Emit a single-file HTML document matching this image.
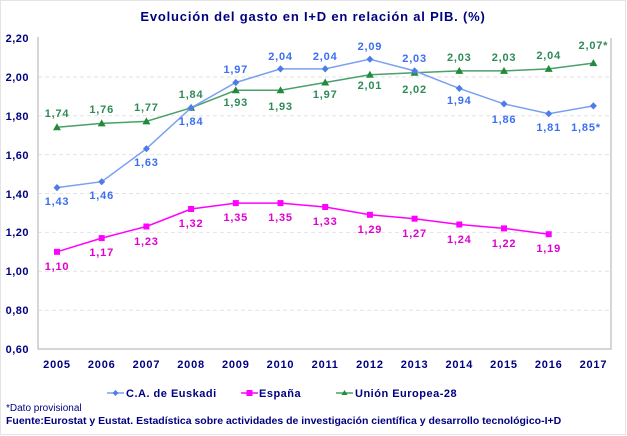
<!DOCTYPE html><html><head><style>body{margin:0;background:#fff}svg{display:block;font-family:"Liberation Sans",sans-serif}</style></head><body>
<svg width="627" height="436" xmlns="http://www.w3.org/2000/svg">
<rect x="0.5" y="0.5" width="625" height="434" fill="#fff" stroke="#e4e4e4"/>
<text x="313" y="21" text-anchor="middle" font-size="13" font-weight="bold" fill="#000080" letter-spacing="0.8">Evolución del gasto en I+D en relación al PIB. (%)</text>
<g stroke="#e2e2e2" stroke-dasharray="4,3">
<line x1="38" x2="611" y1="77" y2="77"/><line x1="38" x2="611" y1="115.7" y2="115.7"/><line x1="38" x2="611" y1="154.6" y2="154.6"/><line x1="38" x2="611" y1="193.5" y2="193.5"/><line x1="38" x2="611" y1="232.4" y2="232.4"/><line x1="38" x2="611" y1="271.3" y2="271.3"/><line x1="38" x2="611" y1="310.2" y2="310.2"/></g>
<polyline points="38,37 38,349 611,349 611,38" fill="none" stroke="#c8c8c8" stroke-width="1.5"/>
<g font-size="11" font-weight="bold" fill="#000080" text-anchor="end" letter-spacing="0.5">
<text x="29" y="42">2,20</text><text x="29" y="81">2,00</text><text x="29" y="120">1,80</text><text x="29" y="159">1,60</text><text x="29" y="198">1,40</text><text x="29" y="236">1,20</text><text x="29" y="275">1,00</text><text x="29" y="314">0,80</text><text x="29" y="353">0,60</text></g>
<g font-size="11" font-weight="bold" fill="#000080" text-anchor="middle" letter-spacing="0.8">
<text x="57" y="368">2005</text><text x="101.7" y="368">2006</text><text x="146.4" y="368">2007</text><text x="191.1" y="368">2008</text><text x="235.8" y="368">2009</text><text x="280.5" y="368">2010</text><text x="325.2" y="368">2011</text><text x="369.9" y="368">2012</text><text x="414.6" y="368">2013</text><text x="459.3" y="368">2014</text><text x="504" y="368">2015</text><text x="548.7" y="368">2016</text><text x="593.4" y="368">2017</text></g>

<!-- EU -->
<polyline fill="none" stroke="#4aa06a" stroke-width="1.5" points="57,127.3 101.7,123.4 146.4,121.4 191.1,107.8 235.8,90.3 280.5,90.3 325.2,82.5 369.9,74.8 414.6,72.8 459.3,70.9 504,70.9 548.7,68.9 593.4,63.1"/>
<g fill="#228b3a">
<path d="M57,123.3 l4,7 h-8z"/><path d="M101.7,119.4 l4,7 h-8z"/><path d="M146.4,117.4 l4,7 h-8z"/><path d="M191.1,103.8 l4,7 h-8z"/><path d="M235.8,86.3 l4,7 h-8z"/><path d="M280.5,86.3 l4,7 h-8z"/><path d="M325.2,78.5 l4,7 h-8z"/><path d="M369.9,70.8 l4,7 h-8z"/><path d="M414.6,68.8 l4,7 h-8z"/><path d="M459.3,66.9 l4,7 h-8z"/><path d="M504,66.9 l4,7 h-8z"/><path d="M548.7,64.9 l4,7 h-8z"/><path d="M593.4,59.1 l4,7 h-8z"/></g>

<!-- Euskadi -->
<polyline fill="none" stroke="#7b9ff2" stroke-width="1.5" points="57,187.6 101.7,181.7 146.4,148.7 191.1,107.8 235.8,82.5 280.5,68.9 325.2,68.9 369.9,59.2 414.6,70.9 459.3,88.4 504,103.9 548.7,113.7 593.4,105.9"/>
<g fill="#4f7de8">
<path d="M57,184 l3.5,3.6 -3.5,3.6 -3.5,-3.6z"/><path d="M101.7,178.1 l3.5,3.6 -3.5,3.6 -3.5,-3.6z"/><path d="M146.4,145.1 l3.5,3.6 -3.5,3.6 -3.5,-3.6z"/><path d="M191.1,104.2 l3.5,3.6 -3.5,3.6 -3.5,-3.6z"/><path d="M235.8,78.9 l3.5,3.6 -3.5,3.6 -3.5,-3.6z"/><path d="M280.5,65.3 l3.5,3.6 -3.5,3.6 -3.5,-3.6z"/><path d="M325.2,65.3 l3.5,3.6 -3.5,3.6 -3.5,-3.6z"/><path d="M369.9,55.6 l3.5,3.6 -3.5,3.6 -3.5,-3.6z"/><path d="M414.6,67.3 l3.5,3.6 -3.5,3.6 -3.5,-3.6z"/><path d="M459.3,84.8 l3.5,3.6 -3.5,3.6 -3.5,-3.6z"/><path d="M504,100.3 l3.5,3.6 -3.5,3.6 -3.5,-3.6z"/><path d="M548.7,110.1 l3.5,3.6 -3.5,3.6 -3.5,-3.6z"/><path d="M593.4,102.3 l3.5,3.6 -3.5,3.6 -3.5,-3.6z"/></g>

<!-- España -->
<polyline fill="none" stroke="#ff00ff" stroke-width="1.5" points="57,251.8 101.7,238.1 146.4,226.5 191.1,209 235.8,203.1 280.5,203.1 325.2,207 369.9,214.8 414.6,218.7 459.3,224.5 504,228.4 548.7,234.2"/>
<g fill="#ff00ff">
<rect x="54" y="248.8" width="6" height="6"/><rect x="98.7" y="235.1" width="6" height="6"/><rect x="143.4" y="223.5" width="6" height="6"/><rect x="188.1" y="206" width="6" height="6"/><rect x="232.8" y="200.1" width="6" height="6"/><rect x="277.5" y="200.1" width="6" height="6"/><rect x="322.2" y="204" width="6" height="6"/><rect x="366.9" y="211.8" width="6" height="6"/><rect x="411.6" y="215.7" width="6" height="6"/><rect x="456.3" y="221.5" width="6" height="6"/><rect x="501" y="225.4" width="6" height="6"/><rect x="545.7" y="231.2" width="6" height="6"/></g>

<g font-size="11" font-weight="bold" text-anchor="middle" letter-spacing="0.8">
<g fill="#2e8b57">
<text x="57" y="117">1,74</text><text x="101.7" y="113">1,76</text><text x="146.4" y="111">1,77</text><text x="191.1" y="98">1,84</text><text x="235.8" y="106">1,93</text><text x="280.5" y="110">1,93</text><text x="325.2" y="98">1,97</text><text x="369.9" y="89">2,01</text><text x="414.6" y="93">2,02</text><text x="459.3" y="61">2,03</text><text x="504" y="61">2,03</text><text x="548.7" y="59">2,04</text><text x="593.4" y="49">2,07*</text></g>
<g fill="#3b6ef0">
<text x="57" y="205">1,43</text><text x="101.7" y="199">1,46</text><text x="146.4" y="166">1,63</text><text x="191.1" y="125">1,84</text><text x="235.8" y="73">1,97</text><text x="280.5" y="60">2,04</text><text x="325.2" y="60">2,04</text><text x="369.9" y="50">2,09</text><text x="414.6" y="62">2,03</text><text x="459.3" y="104">1,94</text><text x="504" y="123">1,86</text><text x="548.7" y="131">1,81</text><text x="586" y="131">1,85*</text></g>
<g fill="#e000d0">
<text x="57" y="270">1,10</text><text x="101.7" y="256">1,17</text><text x="146.4" y="245">1,23</text><text x="191.1" y="227">1,32</text><text x="235.8" y="221">1,35</text><text x="280.5" y="221">1,35</text><text x="325.2" y="225">1,33</text><text x="369.9" y="233">1,29</text><text x="414.6" y="237">1,27</text><text x="459.3" y="243">1,24</text><text x="504" y="247">1,22</text><text x="548.7" y="252">1,19</text></g>
</g>

<!-- legend -->
<g font-size="11" font-weight="bold" fill="#000080" letter-spacing="0.5">
<line x1="107" x2="124" y1="393" y2="393" stroke="#7b9ff2" stroke-width="1.5"/><path d="M115.5,390 l3,3 -3,3 -3,-3z" fill="#4f7de8"/>
<text x="126" y="397">C.A. de Euskadi</text>
<line x1="241" x2="258" y1="393" y2="393" stroke="#ff00ff" stroke-width="1.5"/><rect x="246.5" y="390" width="6" height="6" fill="#ff00ff"/>
<text x="259" y="397">España</text>
<line x1="336" x2="353" y1="393" y2="393" stroke="#4aa06a" stroke-width="1.5"/><path d="M344.5,390 l3,5 h-6z" fill="#228b3a"/>
<text x="355" y="397">Unión Europea-28</text>
</g>
<text x="6" y="411" font-size="10" fill="#000080">*Dato provisional</text>
<text x="6" y="424" font-size="10.5" font-weight="bold" fill="#000080">Fuente:Eurostat y Eustat. Estadística sobre actividades de investigación científica y desarrollo tecnológico-I+D</text>
</svg></body></html>
